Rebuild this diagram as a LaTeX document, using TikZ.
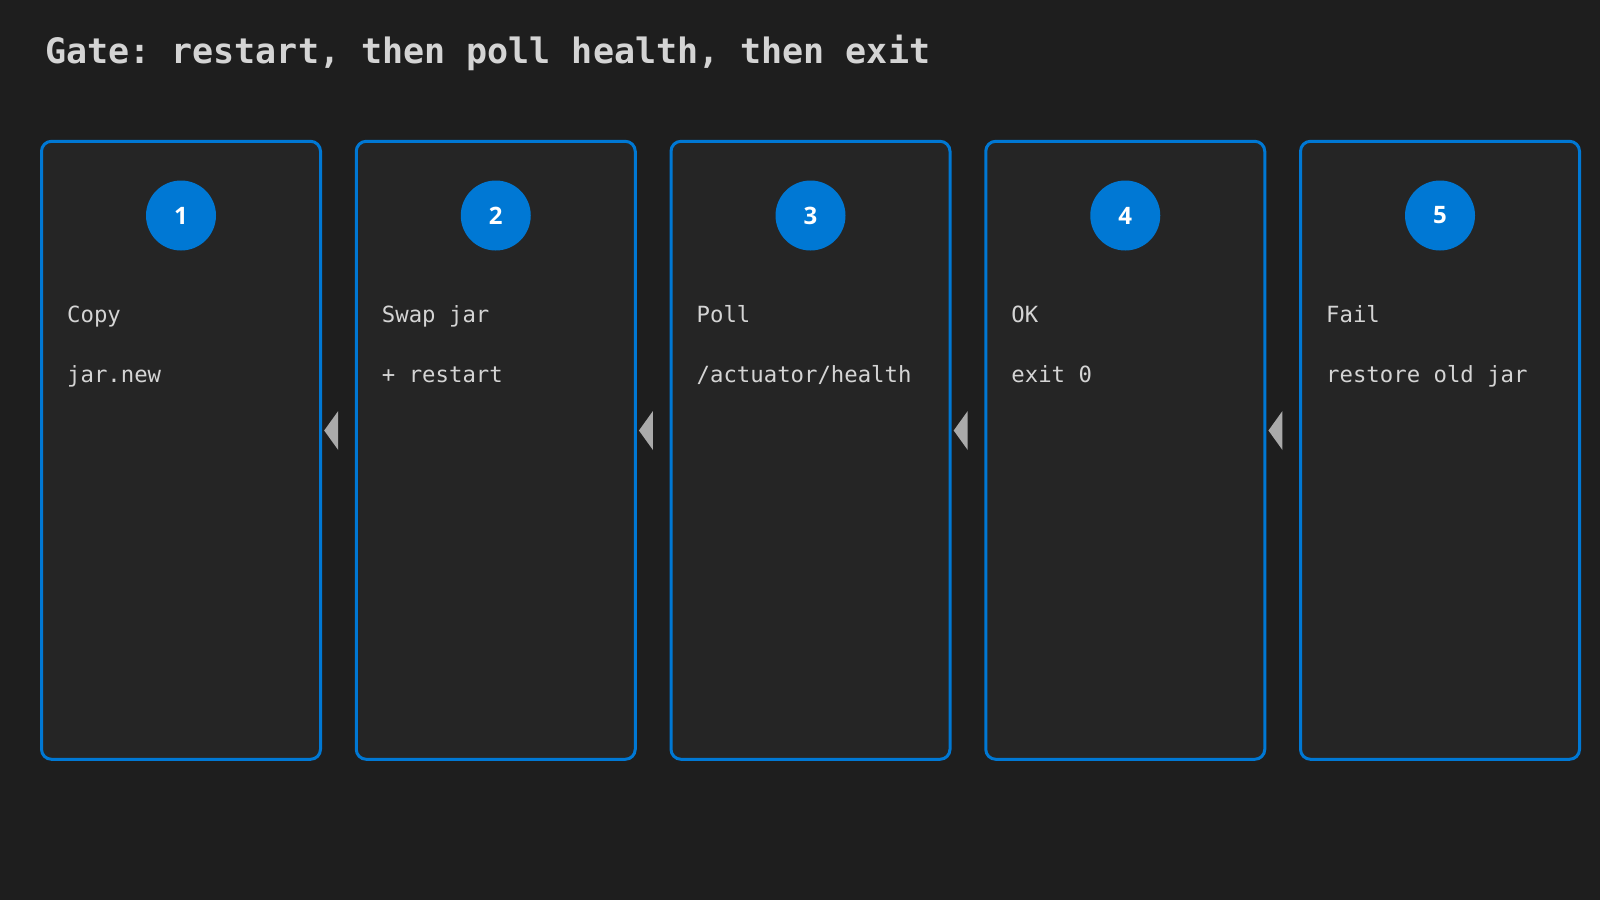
\documentclass[tikz,border=0pt]{standalone}
\usepackage{fontspec}
\setmonofont{DejaVu Sans Mono}
\newfontfamily\numfont{Open Sans}
\usetikzlibrary{calc}
\definecolor{bgc}{HTML}{1E1E1E}
\definecolor{cardc}{HTML}{252525}
\definecolor{bluec}{HTML}{0078D4}
\definecolor{txtc}{HTML}{D4D4D4}
\definecolor{tipc}{HTML}{AAAAAA}
\tikzset{
  card/.style={draw=bluec, fill=cardc, line width=3pt, rounded corners=10pt,
    minimum width=279pt, minimum height=618pt, inner sep=0pt},
  badge/.style={circle, fill=bluec, minimum size=70pt, inner sep=0pt,
    text=white, font=\numfont\bfseries\fontsize{24}{28}\selectfont},
  lbl/.style={anchor=base west, inner sep=0pt, text=txtc,
    font=\ttfamily\fontsize{22.3}{26}\selectfont},
  ttl/.style={anchor=base west, inner sep=0pt, text=txtc,
    font=\ttfamily\bfseries\fontsize{35}{40}\selectfont},
  tipfill/.style={fill=tipc}
}
\begin{document}
\begin{tikzpicture}[x=1pt,y=-1pt]
\fill[bgc] (0,0) rectangle (1600,900);
\useasboundingbox (0,0) rectangle (1600,900);
\node[ttl] (title) at (45,63.5) {Gate: restart, then poll health, then exit};
\foreach \i/\a/\b in {1/{Copy}/{jar.new}, 2/{Swap jar}/{+ restart}, 3/{Poll}/{/actuator/health}, 4/{OK}/{exit 0}, 5/{Fail}/{restore old jar}}{
  \pgfmathsetmacro{\cx}{181+(\i-1)*314.75}
  \node[card] (b\i) at (\cx,450.3) {};
  \node[badge] (c\i) at (\cx,215.5) {\i};
  \node[lbl] (t\i) at ($(b\i.north west)+(27,182.4)$) {\a};
  \node[lbl] (s\i) at ($(b\i.north west)+(27,243)$) {\b};
}
\foreach \i/\j in {1/2,2/3,3/4,4/5}{
  \fill[tipfill] ($(b\i.east)+(2.2,-19.8)$) -- ($(b\i.east)+(16.2,-39.3)$) -- ($(b\i.east)+(16.2,-0.3)$) -- cycle;
}
\end{tikzpicture}
\end{document}
